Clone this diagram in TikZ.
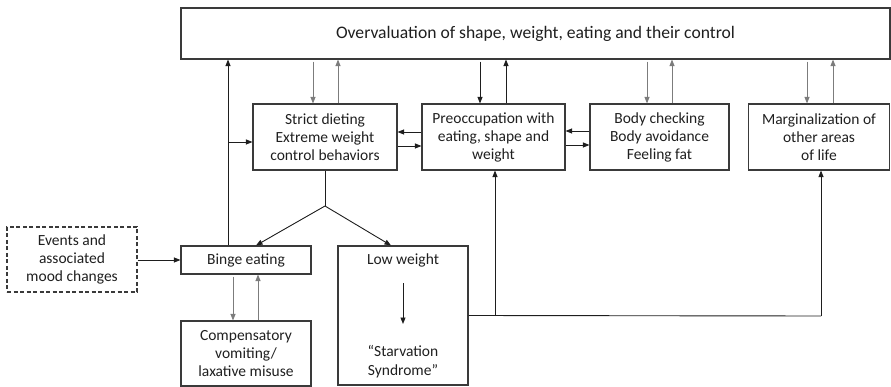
\documentclass[tikz,border=0pt]{standalone}
\usepackage{fontspec}
\setmainfont{Carlito}
\usetikzlibrary{arrows.meta}
\definecolor{boxc}{HTML}{3A3A3A}
\definecolor{blk}{HTML}{1E1E1E}
\definecolor{gry}{HTML}{7C7C7C}
\tikzset{
  box/.style={draw=boxc, line width=1.1pt, rectangle, align=center, inner sep=2pt,
    font=\fontsize{15.5}{18}\selectfont, text=black!88},
  plain/.style={align=center, inner sep=0pt, font=\fontsize{15.5}{18.5}\selectfont, text=black!88},
  barr/.style={draw=blk, line width=0.9pt, -{Triangle[length=6.5pt,width=5pt]}},
  bline/.style={draw=blk, line width=0.9pt},
  garr/.style={draw=gry, line width=0.9pt, -{Triangle[length=6.5pt,width=5pt]}, color=gry},
}
\begin{document}
\begin{tikzpicture}[x=1pt,y=-1pt]
\useasboundingbox (0,0) rectangle (891,387);
% boxes
\node[box, font=\fontsize{17.6}{20}\selectfont, minimum width=709pt, minimum height=51pt] (top) at (535.5,33.5)
  {Overvaluation of shape, weight, eating and their control};
\node[box, minimum width=144pt, minimum height=66pt] (strict) at (325,137)
  {Strict dieting\\Extreme weight\\control behaviors};
\node[box, minimum width=143pt, minimum height=66pt] (preoc) at (493.5,137)
  {Preoccupation with\\eating, shape and\\weight};
\node[box, minimum width=139pt, minimum height=66pt] (body) at (659.5,137)
  {Body checking\\Body avoidance\\Feeling fat};
\node[box, minimum width=141pt, minimum height=66pt] (marg) at (819,137)
  {Marginalization of\\other areas\\of life};
\node[box, minimum width=130pt, minimum height=28pt] (binge) at (246,260)
  {Binge eating};
\node[box, dashed, dash pattern=on 4pt off 2.5pt, minimum width=130pt, minimum height=65pt] (events) at (72,259.5)
  {Events and\\associated\\mood changes};
\node[box, minimum width=130pt, minimum height=65pt] (comp) at (246,353.5)
  {Compensatory\\vomiting/\\laxative misuse};
\node[box, minimum width=130pt, minimum height=139pt] (low) at (403,315.5) {};
\node[plain] (lowt) at (403,260) {Low weight};
\node[plain] (starv) at (403,361.5) {“Starvation\\Syndrome”};
\coordinate (la) at (403,283);
\coordinate (lb) at (403,324);
\draw[barr] (la) -- (lb);

% left column link
\coordinate (xa) at (228,0);
\coordinate (j1) at (228,142);
\draw[barr] (binge.north -| xa) -- (top.south -| xa);
\draw[barr] (j1) -- (j1 -| strict.west);

% top <-> row
\draw[garr] ([xshift=-12pt]strict.north |- top.south) ++(0,2) -- ([xshift=-12pt]strict.north);
\draw[garr] ([xshift=13pt]strict.north) -- ([xshift=13pt]strict.north |- top.south);
\draw[barr] ([xshift=-13.5pt]preoc.north |- top.south) ++(0,2) -- ([xshift=-13.5pt]preoc.north);
\draw[barr] ([xshift=12.5pt]preoc.north) -- ([xshift=12.5pt]preoc.north |- top.south);
\draw[garr] ([xshift=-12.5pt]body.north |- top.south) ++(0,2) -- ([xshift=-12.5pt]body.north);
\draw[garr] ([xshift=12.5pt]body.north) -- ([xshift=12.5pt]body.north |- top.south);
\draw[garr] ([xshift=-12pt]marg.north |- top.south) ++(0,2) -- ([xshift=-12pt]marg.north);
\draw[garr] ([xshift=14pt]marg.north) -- ([xshift=14pt]marg.north |- top.south);

% horizontal pairs
\draw[barr] ([yshift=5pt]preoc.west) -- ([yshift=5pt]preoc.west -| strict.east);
\draw[barr] ([yshift=-9pt]strict.east) -- ([yshift=-9pt]strict.east -| preoc.west);
\draw[barr] ([yshift=6pt]body.west) -- ([yshift=6pt]body.west -| preoc.east);
\draw[barr] ([yshift=-8pt]preoc.east) -- ([yshift=-8pt]preoc.east -| body.west);

% split from strict dieting
\coordinate (split) at (325,206);
\draw[bline] (strict.south) -- (split);
\draw[barr] (split) -- ([xshift=10pt]binge.north);
\draw[barr] (split) -- ([xshift=-12pt]low.north);

% events -> binge
\draw[barr] (events.east |- binge.west) -- (binge.west);

% binge <-> compensatory
\draw[garr] ([xshift=-13pt,yshift=-2pt]binge.south) -- ([xshift=-13pt]comp.north);
\draw[garr] ([xshift=12pt]comp.north) -- ([xshift=12pt]binge.south);

% low weight -> preoccupation, marginalization
\coordinate (c1) at (495,316);
\coordinate (c2) at (821,316);
\draw[bline] (low.east) -- (c2);
\draw[barr] (c2) -- (c2 |- marg.south);
\draw[barr] (c1) -- (c1 |- preoc.south);
\end{tikzpicture}
\end{document}
